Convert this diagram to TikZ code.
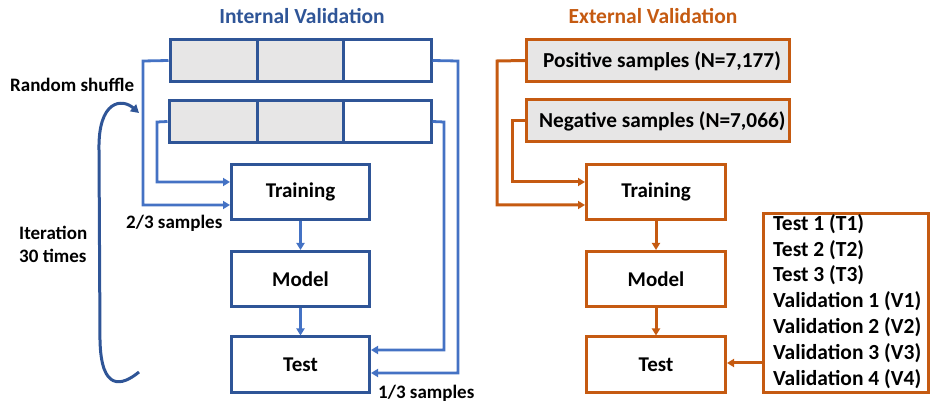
\documentclass[tikz,border=0pt]{standalone}
\usepackage{fontspec}
\setmainfont{Carlito}
\usetikzlibrary{arrows.meta}
\definecolor{dblue}{HTML}{2F5597}
\definecolor{lblue}{HTML}{4472C4}
\definecolor{orng}{HTML}{C55A11}
\definecolor{cellgray}{HTML}{E7E6E6}
\begin{document}
\begin{tikzpicture}[x=1pt,y=-1pt,
  txt/.style={font=\fontsize{19}{22}\selectfont\bfseries, inner sep=0pt},
  bbox/.style={draw=dblue, line width=3pt, minimum width=138pt, minimum height=55pt, inner sep=0pt, font=\fontsize{21}{24}\selectfont\bfseries},
  obox/.style={draw=orng, line width=3pt, minimum width=139pt, minimum height=55pt, inner sep=0pt, font=\fontsize{21}{24}\selectfont\bfseries},
  bcon/.style={draw=lblue, line width=2.8pt},
  barr/.style={bcon, -{Triangle[length=7pt,width=8pt]}},
  ocon/.style={draw=orng, line width=3pt},
  oarr/.style={ocon, -{Triangle[length=7pt,width=8pt]}},
  cell/.style={draw=dblue, line width=3pt, minimum height=42pt, inner sep=0pt}
]
\useasboundingbox (0,0) rectangle (938,406);

% Titles
\node[txt, text=dblue, font=\fontsize{21.5}{24}\selectfont\bfseries] (tint) at (302,16) {Internal Validation};
\node[txt, text=orng, font=\fontsize{21.5}{24}\selectfont\bfseries] (text) at (653,16) {External Validation};

% Internal bars
\node[cell, fill=cellgray, minimum width=87pt] (a1) at (213.5,60.5) {};
\node[cell, fill=cellgray, minimum width=86pt] (a2) at (300,60.5) {};
\node[cell, fill=white, minimum width=88pt] (a3) at (387,60.5) {};
\node[cell, fill=cellgray, minimum width=88pt] (b1) at (213,121.5) {};
\node[cell, fill=cellgray, minimum width=86pt] (b2) at (300,121.5) {};
\node[cell, fill=white, minimum width=88pt] (b3) at (387,121.5) {};

% Internal boxes
\node[bbox] (itrain) at (300.5,192) {Training};
\node[bbox] (imodel) at (300.5,279) {Model};
\node[bbox] (itest) at (300.5,364.5) {Test};

\coordinate (iL1) at (143,61);
\coordinate (iL2) at (157,122);
\coordinate (iR1) at (458,61);
\coordinate (iR2) at (444,122);

\draw[barr] (a1.west) -- (iL1) |- (itrain.west |- 0,205);
\draw[barr] (b1.west) -- (iL2) |- (itrain.west |- 0,182);
\draw[barr] (a3.east) -- (iR1) |- (itest.east |- 0,373);
\draw[barr] (b3.east) -- (iR2) |- (itest.east |- 0,350);
\draw[barr] (itrain) -- (imodel);
\draw[barr] (imodel) -- (itest);

% curved iteration arrow
\coordinate (cS) at (139,372);
\coordinate (cE) at (139,113);
\draw[draw=dblue, line width=3pt, -{Triangle[length=8pt,width=9pt]}]
  (cS) .. controls (122,386) and (101,392) .. (100,340)
  -- (99,150) .. controls (98,100) and (122,98) .. (cE);

\node[txt, anchor=west] (rs) at (10,85) {Random shuffle};
\node[txt, anchor=west, align=left] (it) at (19,244) {Iteration\\[1pt]30 times};
\node[txt, anchor=west] (s23) at (126,223) {2/3 samples};
\node[txt, anchor=west] (s13) at (378,393) {1/3 samples};

% External
\node[obox, fill=cellgray, minimum width=263pt, minimum height=42pt] (pos) at (658,60.5) {};
\node[obox, fill=cellgray, minimum width=263pt, minimum height=42pt] (neg) at (658,121) {};
\node[font=\fontsize{21.3}{24}\selectfont\bfseries, inner sep=0pt, anchor=west] (post) at (543,61) {Positive samples (N=7,177)};
\node[font=\fontsize{21.3}{24}\selectfont\bfseries, inner sep=0pt, anchor=west] (negt) at (539,121) {Negative samples (N=7,066)};

\node[obox] (etrain) at (656,192) {Training};
\node[obox] (emodel) at (656,279) {Model};
\node[obox] (etest) at (656,364.5) {Test};

\node[draw=orng, line width=3pt, minimum width=165pt, minimum height=179pt, inner sep=0pt] (list) at (846,303) {};
\foreach \t [count=\i] in {Test 1 (T1),Test 2 (T2),Test 3 (T3),Validation 1 (V1),Validation 2 (V2),Validation 3 (V3),Validation 4 (V4)}
  \node[txt, font=\fontsize{21.5}{24}\selectfont\bfseries, anchor=west] (l\i) at (773,{224+25.8*(\i-1)}) {\t};

\coordinate (eL1) at (497,61);
\coordinate (eL2) at (512,121);
\draw[oarr] (pos.west) -- (eL1) |- (etrain.west |- 0,205);
\draw[oarr] (neg.west) -- (eL2) |- (etrain.west |- 0,182);
\draw[oarr] (etrain) -- (emodel);
\draw[oarr] (emodel) -- (etest);
\draw[oarr] (list.west |- 0,363) -- (etest.east |- 0,363);
\end{tikzpicture}
\end{document}
